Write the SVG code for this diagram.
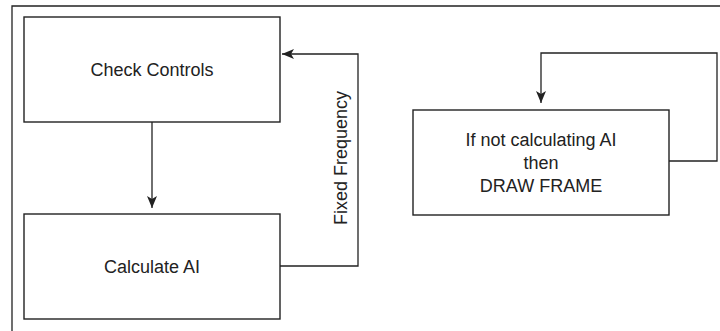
<svg xmlns="http://www.w3.org/2000/svg" width="720" height="331" viewBox="0 0 720 331">
<style>
.box{fill:#fff;stroke:#222;stroke-width:1.4}
.ln{fill:none;stroke:#222;stroke-width:1.3}
.t{font-family:"Liberation Sans",Arial,sans-serif;font-size:18px;fill:#222;text-anchor:middle}
</style>
<defs>
<marker id="ah" viewBox="0 0 12 10" refX="12" refY="5" markerWidth="12" markerHeight="10" markerUnits="userSpaceOnUse" orient="auto">
<path d="M0,0 L12,5 L0,10 L3,5 Z" fill="#222"/>
</marker>
</defs>
<rect width="720" height="331" fill="#fff"/>
<path class="ln" d="M12,331 L12,6 L720,6"/>
<g id="connectors">
<path class="ln" d="M152,122 L152,208" marker-end="url(#ah)"/>
<path class="ln" d="M280,266 L358,266 L358,54 L282,54" marker-end="url(#ah)"/>
<path class="ln" d="M669,161 L717,161 L717,53 L541,53 L541,103" marker-end="url(#ah)"/>
<text class="t" transform="translate(347,158) rotate(-90)">Fixed Frequency</text>
</g>
<g id="check-controls">
<rect class="box" x="24" y="17" width="256" height="105"/>
<text class="t" x="152" y="76">Check Controls</text>
</g>
<g id="calculate-ai">
<rect class="box" x="24" y="214" width="256" height="105"/>
<text class="t" x="152" y="273">Calculate AI</text>
</g>
<g id="draw-frame">
<rect class="box" x="413" y="110" width="256" height="105"/>
<text class="t" x="541" y="146">If not calculating AI</text>
<text class="t" x="541" y="169">then</text>
<text class="t" x="541" y="192">DRAW FRAME</text>
</g>
</svg>
